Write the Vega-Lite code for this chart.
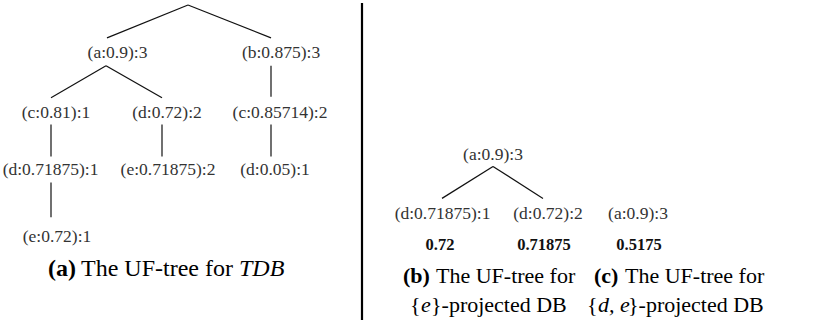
{
  "$schema": "https://vega.github.io/schema/vega-lite/v6.json",
  "width": 827,
  "height": 322,
  "padding": 0,
  "autosize": {"type": "fit", "contains": "padding"},
  "background": "white",
  "config": {"view": {"stroke": null}, "text": {"font": "'Liberation Serif', 'Times New Roman', Times, serif"}},
  "datasets": {
    "edges": [
      {"x1": 188, "y1": 5, "x2": 107, "y2": 38},
      {"x1": 188, "y1": 5, "x2": 271, "y2": 38},
      {"x1": 106, "y1": 66, "x2": 51, "y2": 98},
      {"x1": 106, "y1": 66, "x2": 162, "y2": 98},
      {"x1": 271, "y1": 66, "x2": 271, "y2": 97},
      {"x1": 51, "y1": 125, "x2": 51, "y2": 157},
      {"x1": 162, "y1": 125, "x2": 162, "y2": 157},
      {"x1": 271, "y1": 125, "x2": 271, "y2": 157},
      {"x1": 51, "y1": 183, "x2": 51, "y2": 218},
      {"x1": 493, "y1": 167, "x2": 442, "y2": 199},
      {"x1": 493, "y1": 167, "x2": 543, "y2": 199}
    ],
    "separator": [{"x1": 362, "y1": 3, "x2": 362, "y2": 321}],
    "nodes": [
      {"label": "(a:0.9):3", "x": 117.5, "y": 53},
      {"label": "(b:0.875):3", "x": 281, "y": 53},
      {"label": "(c:0.81):1", "x": 56, "y": 113},
      {"label": "(d:0.72):2", "x": 167, "y": 113},
      {"label": "(c:0.85714):2", "x": 280, "y": 113},
      {"label": "(d:0.71875):1", "x": 50.5, "y": 171},
      {"label": "(e:0.71875):2", "x": 168, "y": 171},
      {"label": "(d:0.05):1", "x": 275, "y": 171},
      {"label": "(e:0.72):1", "x": 57, "y": 238},
      {"label": "(a:0.9):3", "x": 493, "y": 155},
      {"label": "(d:0.71875):1", "x": 442.5, "y": 215},
      {"label": "(d:0.72):2", "x": 548, "y": 215},
      {"label": "(a:0.9):3", "x": 638, "y": 215}
    ],
    "values": [
      {"label": "0.72", "x": 440, "y": 246},
      {"label": "0.71875", "x": 544, "y": 246},
      {"label": "0.5175", "x": 639, "y": 246}
    ],
    "capBold": [
      {"panel": "a", "label": "(a)", "x": 48, "y": 270},
      {"panel": "b", "label": "(b)", "x": 403, "y": 277},
      {"panel": "c", "label": "(c)", "x": 594, "y": 277}
    ],
    "capText": [
      {"panel": "a", "label": "The UF-tree for", "x": 81, "y": 270},
      {"panel": "b", "label": "The UF-tree for", "x": 436, "y": 277},
      {"panel": "c", "label": "The UF-tree for", "x": 625, "y": 277},
      {"panel": "b", "label": "{", "x": 410, "y": 306},
      {"panel": "b", "label": "}-projected DB", "x": 431, "y": 306},
      {"panel": "c", "label": "{", "x": 587, "y": 306},
      {"panel": "c", "label": "}-projected DB", "x": 628, "y": 306}
    ],
    "capItalic": [
      {"panel": "a", "label": "TDB", "x": 239, "y": 270},
      {"panel": "b", "label": "e", "x": 421, "y": 306},
      {"panel": "c", "label": "d, e", "x": 598, "y": 306}
    ]
  },
  "encoding": {},
  "layer": [
    {
      "data": {"name": "edges"},
      "mark": {"type": "rule", "color": "#111", "strokeWidth": 1.2},
      "encoding": {
        "x": {"field": "x1", "type": "quantitative", "scale": {"domain": [0, 827], "nice": false, "zero": false}, "axis": null},
        "y": {"field": "y1", "type": "quantitative", "scale": {"domain": [0, 322], "nice": false, "zero": false, "reverse": true}, "axis": null},
        "x2": {"field": "x2"},
        "y2": {"field": "y2"}
      }
    },
    {
      "data": {"name": "separator"},
      "mark": {"type": "rule", "color": "#000", "strokeWidth": 2.2},
      "encoding": {
        "x": {"field": "x1", "type": "quantitative", "scale": {"domain": [0, 827], "nice": false, "zero": false}, "axis": null},
        "y": {"field": "y1", "type": "quantitative", "scale": {"domain": [0, 322], "nice": false, "zero": false, "reverse": true}, "axis": null},
        "x2": {"field": "x2"},
        "y2": {"field": "y2"}
      }
    },
    {
      "data": {"name": "nodes"},
      "mark": {"type": "text", "fontSize": 17.5, "color": "#333", "align": "center", "baseline": "middle"},
      "encoding": {
        "x": {"field": "x", "type": "quantitative", "scale": {"domain": [0, 827], "nice": false, "zero": false}, "axis": null},
        "y": {"field": "y", "type": "quantitative", "scale": {"domain": [0, 322], "nice": false, "zero": false, "reverse": true}, "axis": null},
        "text": {"field": "label"}
      }
    },
    {
      "data": {"name": "values"},
      "mark": {"type": "text", "fontSize": 16.5, "fontWeight": "bold", "color": "#111", "align": "center", "baseline": "middle"},
      "encoding": {
        "x": {"field": "x", "type": "quantitative", "scale": {"domain": [0, 827], "nice": false, "zero": false}, "axis": null},
        "y": {"field": "y", "type": "quantitative", "scale": {"domain": [0, 322], "nice": false, "zero": false, "reverse": true}, "axis": null},
        "text": {"field": "label"}
      }
    },
    {
      "data": {"name": "capBold"},
      "mark": {"type": "text", "fontWeight": "bold", "color": "#000", "align": "left", "baseline": "middle"},
      "encoding": {
        "x": {"field": "x", "type": "quantitative", "scale": {"domain": [0, 827], "nice": false, "zero": false}, "axis": null},
        "y": {"field": "y", "type": "quantitative", "scale": {"domain": [0, 322], "nice": false, "zero": false, "reverse": true}, "axis": null},
        "text": {"field": "label"},
        "size": {"condition": {"test": "datum.panel === 'a'", "value": 24}, "value": 22}
      }
    },
    {
      "data": {"name": "capText"},
      "mark": {"type": "text", "color": "#000", "align": "left", "baseline": "middle"},
      "encoding": {
        "x": {"field": "x", "type": "quantitative", "scale": {"domain": [0, 827], "nice": false, "zero": false}, "axis": null},
        "y": {"field": "y", "type": "quantitative", "scale": {"domain": [0, 322], "nice": false, "zero": false, "reverse": true}, "axis": null},
        "text": {"field": "label"},
        "size": {"condition": {"test": "datum.panel === 'a'", "value": 24}, "value": 22}
      }
    },
    {
      "data": {"name": "capItalic"},
      "mark": {"type": "text", "fontStyle": "italic", "color": "#000", "align": "left", "baseline": "middle"},
      "encoding": {
        "x": {"field": "x", "type": "quantitative", "scale": {"domain": [0, 827], "nice": false, "zero": false}, "axis": null},
        "y": {"field": "y", "type": "quantitative", "scale": {"domain": [0, 322], "nice": false, "zero": false, "reverse": true}, "axis": null},
        "text": {"field": "label"},
        "size": {"condition": {"test": "datum.panel === 'a'", "value": 24}, "value": 22}
      }
    }
  ]
}
